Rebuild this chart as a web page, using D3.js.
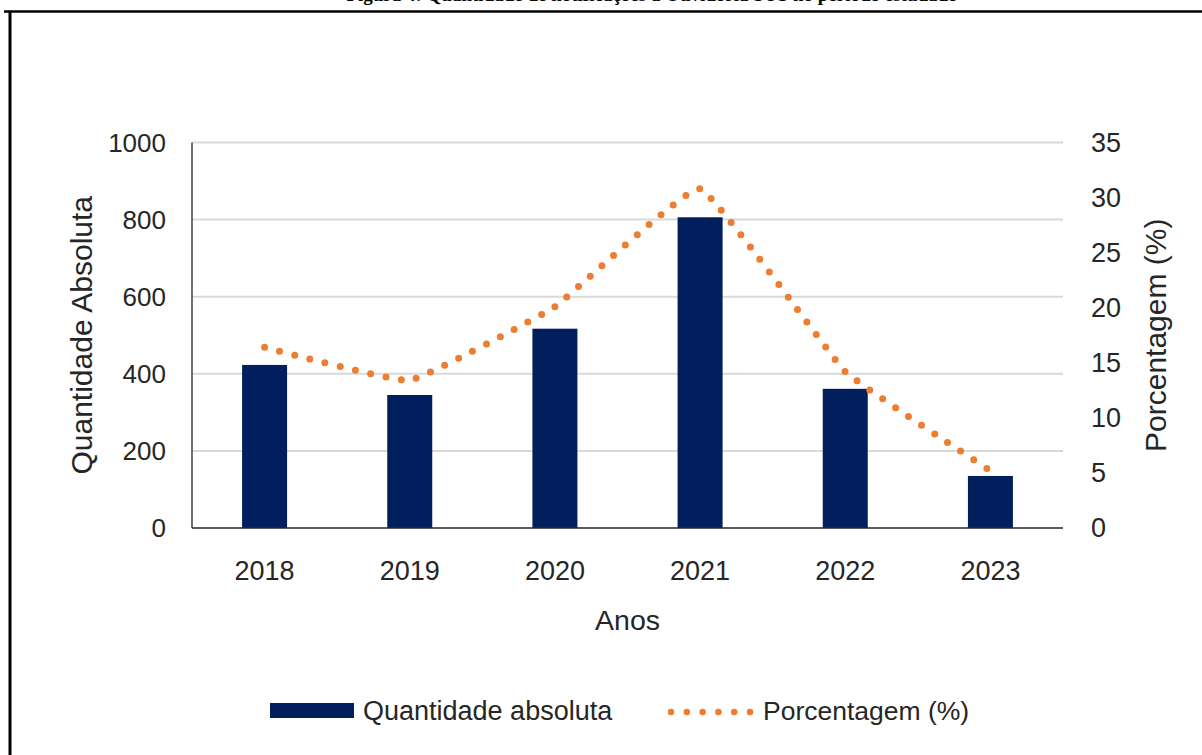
<!DOCTYPE html>
<html>
<head>
<meta charset="utf-8">
<script src="https://cdn.jsdelivr.net/npm/d3@7"></script>
<style>
  body { margin: 0; background: #fff; }
  svg { display: block; }
  text { font-family: "Liberation Sans", Arial, sans-serif; fill: #262626; }
</style>
</head>
<body>
<div id="chart"></div>
<script>
// data
const years = ["2018", "2019", "2020", "2021", "2022", "2023"]
const quantidade = [423, 345, 517, 806, 361, 135]
const porcentagem = [16.4, 13.4, 20.1, 30.8, 14.2, 5.2]
const leftTicks = [0, 200, 400, 600, 800, 1000]
const rightTicks = [0, 5, 10, 15, 20, 25, 30, 35]

const width = 1202,
    height = 755

const plot = { left: 192, right: 1063, top: 142.5, bottom: 528 }

const svg = d3.select("#chart")
    .append("svg")
    .attr("width", width)
    .attr("height", height)

// caption, cut off at the top of the page like the source
svg.append("text")
    .attr("x", 652)
    .attr("y", 1)
    .attr("text-anchor", "middle")
    .style("font-family", "'Liberation Serif', 'Times New Roman', serif")
    .style("font-weight", "bold")
    .style("font-size", "19px")
    .style("fill", "#000")
    .text("Figura 4: Quantidade de notificações à Ouvidoria SUS no período estudado")

// frame
svg.append("line")
    .attr("x1", 4).attr("x2", width)
    .attr("y1", 11.5).attr("y2", 11.5)
    .attr("stroke", "#000").attr("stroke-width", 2.5)
svg.append("line")
    .attr("x1", 10).attr("x2", 10)
    .attr("y1", 11).attr("y2", height)
    .attr("stroke", "#000").attr("stroke-width", 3)

const x = d3.scaleBand()
    .domain(years)
    .range([plot.left, plot.right])
    .paddingInner(0.69)
    .paddingOuter(0.345)

const xCenter = d3.scalePoint()
    .domain(years)
    .range([plot.left, plot.right])
    .padding(0.5)

const yLeft = d3.scaleLinear()
    .domain([0, 1000])
    .range([plot.bottom, plot.top])

const yRight = d3.scaleLinear()
    .domain([0, 35])
    .range([plot.bottom, plot.top])

// gridlines
svg.append("g")
    .selectAll("line")
    .data(leftTicks.filter(d => d > 0))
    .join("line")
    .attr("x1", plot.left)
    .attr("x2", plot.right)
    .attr("y1", d => yLeft(d))
    .attr("y2", d => yLeft(d))
    .attr("stroke", "#d9d9d9")
    .attr("stroke-width", 2)

// bars
svg.append("g")
    .selectAll("rect")
    .data(years)
    .join("rect")
    .attr("x", d => x(d))
    .attr("width", x.bandwidth())
    .attr("y", (d, i) => yLeft(quantidade[i]))
    .attr("height", (d, i) => yLeft(0) - yLeft(quantidade[i]))
    .attr("fill", "#001f5c")

// axis lines
svg.append("line")
    .attr("x1", plot.left).attr("x2", plot.left)
    .attr("y1", plot.top).attr("y2", plot.bottom)
    .attr("stroke", "#404040").attr("stroke-width", 1.5)
svg.append("line")
    .attr("x1", plot.left).attr("x2", plot.right)
    .attr("y1", plot.bottom).attr("y2", plot.bottom)
    .attr("stroke", "#262626").attr("stroke-width", 1.5)

// dotted smoothed percentage line
const line = d3.line()
    .x((d, i) => xCenter(years[i]))
    .y(d => yRight(d))
    .curve(d3.curveCardinal.tension(0.72))

svg.append("path")
    .datum(porcentagem)
    .attr("d", line)
    .attr("fill", "none")
    .attr("stroke", "#ed7d31")
    .attr("stroke-width", 7)
    .attr("stroke-linecap", "round")
    .attr("stroke-dasharray", "0 15.6")

// tick labels
svg.append("g")
    .selectAll("text")
    .data(leftTicks)
    .join("text")
    .attr("x", 166)
    .attr("y", d => yLeft(d))
    .attr("dy", "0.35em")
    .attr("text-anchor", "end")
    .style("font-size", "26px")
    .text(d => d)

svg.append("g")
    .selectAll("text")
    .data(rightTicks)
    .join("text")
    .attr("x", 1091)
    .attr("y", d => yRight(d))
    .attr("dy", "0.35em")
    .attr("text-anchor", "start")
    .style("font-size", "27px")
    .text(d => d)

svg.append("g")
    .selectAll("text")
    .data(years)
    .join("text")
    .attr("x", d => xCenter(d))
    .attr("y", 571)
    .attr("dy", "0.35em")
    .attr("text-anchor", "middle")
    .style("font-size", "27px")
    .text(String)

// axis titles
svg.append("text")
    .attr("x", (plot.left + plot.right) / 2)
    .attr("y", 620)
    .attr("dy", "0.35em")
    .attr("text-anchor", "middle")
    .style("font-size", "28.5px")
    .text("Anos")

svg.append("text")
    .attr("transform", `translate(81,${(plot.top + plot.bottom) / 2}) rotate(-90)`)
    .attr("dy", "0.35em")
    .attr("text-anchor", "middle")
    .style("font-size", "30px")
    .text("Quantidade Absoluta")

svg.append("text")
    .attr("transform", `translate(1155,${(plot.top + plot.bottom) / 2}) rotate(-90)`)
    .attr("dy", "0.35em")
    .attr("text-anchor", "middle")
    .style("font-size", "30px")
    .text("Porcentagem (%)")

// legend
const legend = svg.append("g")

legend.append("rect")
    .attr("x", 270).attr("y", 703)
    .attr("width", 84).attr("height", 15)
    .attr("fill", "#001f5c")

legend.append("text")
    .attr("x", 363).attr("y", 711)
    .attr("dy", "0.35em")
    .style("font-size", "27px")
    .text("Quantidade absoluta")

legend.append("line")
    .attr("x1", 671).attr("x2", 751)
    .attr("y1", 712).attr("y2", 712)
    .attr("stroke", "#ed7d31")
    .attr("stroke-width", 6.5)
    .attr("stroke-linecap", "round")
    .attr("stroke-dasharray", "0 15.8")

legend.append("text")
    .attr("x", 763).attr("y", 711)
    .attr("dy", "0.35em")
    .style("font-size", "26.5px")
    .text("Porcentagem (%)")
</script>
</body>
</html>
